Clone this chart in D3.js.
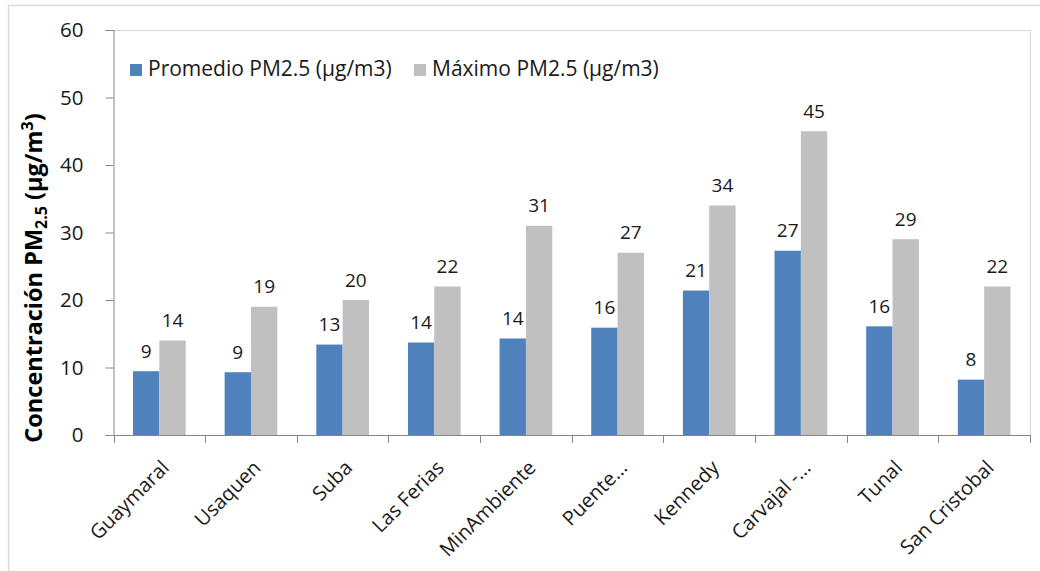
<!DOCTYPE html>
<html>
<head>
<meta charset="utf-8">
<script src="https://cdn.jsdelivr.net/npm/d3@7"></script>
<style>
  html, body { margin: 0; padding: 0; background: #fff; }
  svg { display: block; }
  text { font-family: "Open Sans", "Liberation Sans", sans-serif; }
</style>
</head>
<body>
<svg id="chart" width="1040" height="571"></svg>
<script>
const categories = ["Guaymaral", "Usaquen", "Suba", "Las Ferias", "MinAmbiente", "Puente...", "Kennedy", "Carvajal -...", "Tunal", "San Cristobal"];
const promedio = [9.45, 9.3, 13.4, 13.7, 14.3, 15.9, 21.4, 27.3, 16.1, 8.2];
const maximo = [14, 19, 20, 22, 31, 27, 34, 45, 29, 22];
const seriesNames = ["Promedio PM2.5 (µg/m3)", "Máximo PM2.5 (µg/m3)"];
const seriesColors = ["#4F81BD", "#C0C0C0"];
const yTicks = [0, 10, 20, 30, 40, 50, 60];

const svg = d3.select("#chart");
const mLeft = 113.5, mRight = 1030, mTop = 30, mBottom = 435;

// outer chart border
svg.append("rect").attr("x", 8.5).attr("y", 5.5).attr("width", 1040).attr("height", 600)
  .attr("fill", "none").attr("stroke", "#d9d9d9").attr("stroke-width", 1.5);

const x0 = d3.scaleBand().domain(categories).range([mLeft, mRight]).padding(0);
const x1 = d3.scaleBand().domain([0, 1]).range([0, x0.bandwidth()]).paddingInner(0).paddingOuter(0.74);
const y = d3.scaleLinear().domain([0, 60]).range([mBottom, mTop]);

// plot area border (top & right)
svg.append("path").attr("d", `M${mLeft},${mTop + 0.5}H${mRight + 0.5}V${mBottom}`)
  .attr("fill", "none").attr("stroke", "#d9d9d9").attr("stroke-width", 1);

// bars
const data = categories.map((c, i) => ({ c, vals: [promedio[i], maximo[i]] }));
const groups = svg.append("g").selectAll("g").data(data).join("g")
  .attr("transform", d => `translate(${x0(d.c)},0)`);
groups.selectAll("rect").data(d => d.vals.map((v, k) => ({ v, k }))).join("rect")
  .attr("x", d => x1(d.k))
  .attr("y", d => y(d.v))
  .attr("width", x1.bandwidth())
  .attr("height", d => y(0) - y(d.v))
  .attr("fill", d => seriesColors[d.k]);
groups.selectAll("text.lbl").data(d => d.vals.map((v, k) => ({ v, k }))).join("text")
  .attr("class", "lbl")
  .attr("x", d => x1(d.k) + x1.bandwidth() / 2)
  .attr("y", d => y(d.v) - 13.5)
  .attr("text-anchor", "middle")
  .attr("font-size", 19)
  .attr("fill", "#1a1a1a")
  .text(d => d3.format(".0f")(d.v));

// y axis
const yAxis = svg.append("g").attr("transform", `translate(${mLeft},0)`)
  .call(d3.axisLeft(y).tickValues(yTicks).tickSize(8).tickPadding(22).tickFormat(d3.format("d")));
yAxis.select(".domain").attr("stroke", "#868686");
yAxis.selectAll(".tick line").attr("stroke", "#868686");
yAxis.selectAll(".tick text").attr("font-size", 20.5).attr("fill", "#1a1a1a")
  .attr("font-family", "'Open Sans', sans-serif");

// x axis
const xAxis = svg.append("g").attr("transform", `translate(0,${mBottom})`)
  .call(d3.axisBottom(x0).tickSize(0).tickFormat(""));
xAxis.select(".domain").attr("stroke", "#868686").attr("d", `M${mLeft - 8},0.5H${mRight}`);
xAxis.selectAll(".tick").remove();
const boundaries = categories.map(c => x0(c)).concat([mRight]);
xAxis.selectAll("line.bt").data(boundaries).join("line").attr("class", "bt")
  .attr("x1", d => Math.round(d) + 0.5).attr("x2", d => Math.round(d) + 0.5)
  .attr("y1", 0).attr("y2", 8).attr("stroke", "#868686");
xAxis.selectAll("text.cat").data(categories).join("text").attr("class", "cat")
  .attr("transform", c => `translate(${x0(c) + x0.bandwidth() / 2 + 11},${34}) rotate(-45)`)
  .attr("text-anchor", "end")
  .attr("font-size", 20)
  .attr("fill", "#1a1a1a")
  .text(c => c);

// y title
const yt = svg.append("text")
  .attr("transform", `translate(42,${278}) rotate(-90)`)
  .attr("text-anchor", "middle")
  .attr("font-size", 23.5)
  .attr("font-weight", "bold")
  .attr("fill", "#000");
yt.append("tspan").text("Concentración PM");
yt.append("tspan").attr("font-size", 16).attr("dy", 5).text("2.5");
yt.append("tspan").attr("dy", -5).text(" (µg/m");
yt.append("tspan").attr("font-size", 16).attr("dy", -9).text("3");
yt.append("tspan").attr("dy", 9).text(")");

// legend
const legendX = [130, 414];
const lg = svg.append("g").selectAll("g").data(seriesNames).join("g")
  .attr("transform", (d, i) => `translate(${legendX[i]},64)`);
lg.append("rect").attr("width", 12).attr("height", 12).attr("fill", (d, i) => seriesColors[i]);
lg.append("text").attr("x", 18).attr("y", 12).attr("font-size", 21).attr("fill", "#1a1a1a").text(d => d);
</script>
</body>
</html>
